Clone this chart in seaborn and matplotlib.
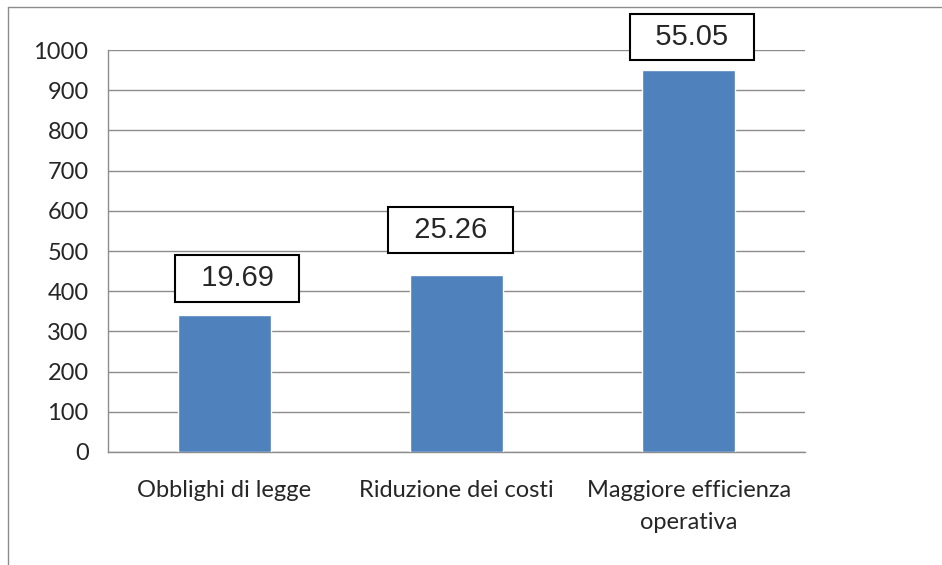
import matplotlib.pyplot as plt
import seaborn as sns
import pandas as pd
from matplotlib.lines import Line2D

# Data
categories = ['Obblighi di legge', 'Riduzione dei costi', 'Maggiore efficienza\noperativa']
values = [340, 440, 950]
percent_labels = ['19.69', '25.26', '55.05']

df = pd.DataFrame({'categoria': categories, 'valore': values})

sns.set_style('white')
plt.rcParams['font.family'] = ['Lato', 'DejaVu Sans']

fig = plt.figure(figsize=(9.42, 5.65), dpi=100)
ax = fig.add_axes([0.1146, 0.2, 0.74, 0.7115])

sns.barplot(data=df, x='categoria', y='valore', color='#4F81BD',
            saturation=1, width=0.4, ax=ax, zorder=3)

ax.set_ylim(0, 1000)
ax.set_xlim(-0.5, 2.5)
ax.set_yticks(range(0, 1001, 100))
ax.yaxis.grid(True, color='#8c8c8c', linewidth=1, zorder=0)
ax.set_axisbelow(True)
ax.set_xlabel('')
ax.set_ylabel('')

for side in ['top', 'right']:
    ax.spines[side].set_visible(False)
for side in ['left', 'bottom']:
    ax.spines[side].set_color('#8c8c8c')
    ax.spines[side].set_linewidth(1)

ax.tick_params(axis='y', length=8, width=1, color='#8c8c8c', labelsize=17, pad=6)
ax.tick_params(axis='x', which='major', length=0, labelsize=17, pad=20)
ax.set_xticks([-0.5, 0.5, 1.5, 2.5], minor=True)
ax.tick_params(axis='x', which='minor', length=8, width=1, color='#8c8c8c')
for lab in ax.get_xticklabels():
    lab.set_linespacing(1.65)

# Boxed percentage labels above the bars (offsets in pixels)
label_dx = [13, -6, 3]
label_dy = [37, 45, 33]
for i, (v, txt) in enumerate(zip(values, percent_labels)):
    ax.annotate(f'  {txt}  ', xy=(i, v), xytext=(label_dx[i] * 0.72, label_dy[i] * 0.72),
                textcoords='offset points', ha='center', va='center',
                fontsize=21, family=['Liberation Sans', 'DejaVu Sans'],
                bbox=dict(boxstyle='square,pad=0.32', fc='white', ec='black', lw=1.5),
                zorder=5)

# Outer chart frame (left and top edges visible)
fig.add_artist(Line2D([8 / 942, 8 / 942], [0, 1 - 7 / 565], color='#8c8c8c', lw=1,
                      transform=fig.transFigure))
fig.add_artist(Line2D([8 / 942, 1], [1 - 7 / 565, 1 - 7 / 565], color='#8c8c8c', lw=1,
                      transform=fig.transFigure))

fig.savefig('out.png', dpi=100)
